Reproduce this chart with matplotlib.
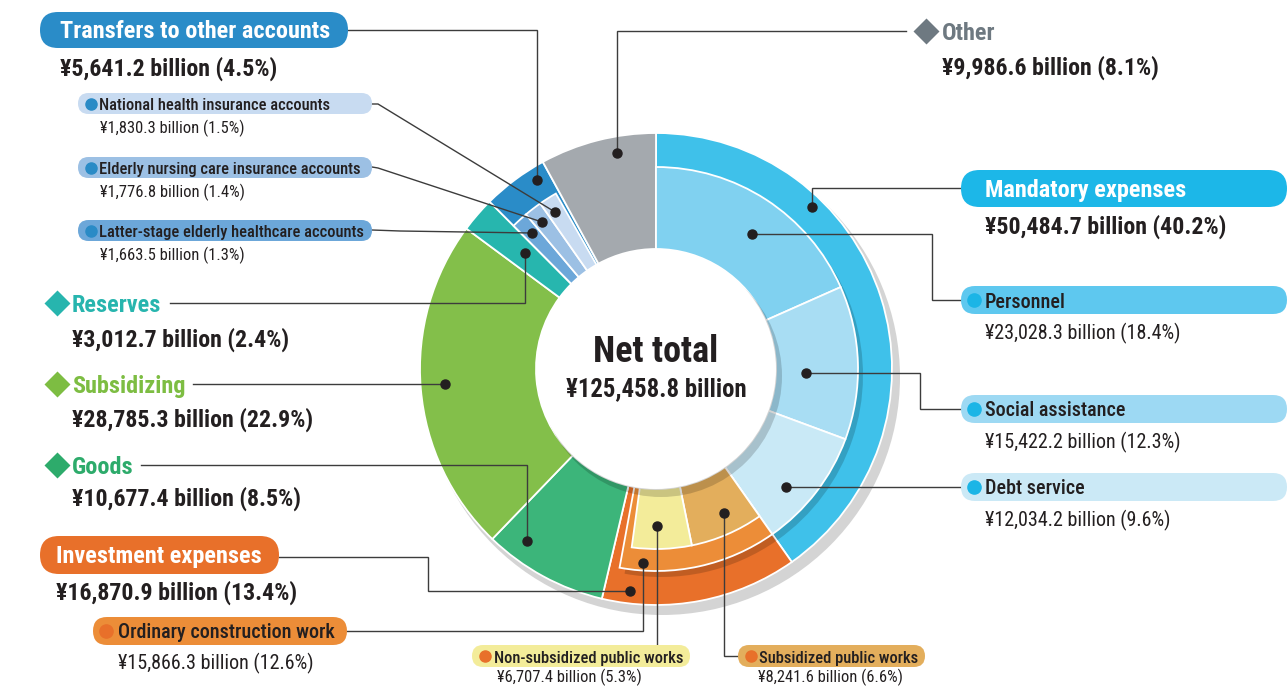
import matplotlib

matplotlib.use("Agg")
import matplotlib.pyplot as plt
from matplotlib.patches import Wedge, Circle, FancyBboxPatch

# ---- data: ¥ billion, clockwise from 12 o'clock ----
main_labels = ["Mandatory expenses", "Investment expenses", "Goods", "Subsidizing",
               "Reserves", "Transfers to other accounts", "Other"]
main_values = [50484.7, 16870.9, 10677.4, 28785.3, 3012.7, 5641.2, 9986.6]
main_shares = [40.2, 13.4, 8.5, 22.9, 2.4, 4.5, 8.1]

mandatory_labels = ["Personnel", "Social assistance", "Debt service"]
mandatory_values = [23028.3, 15422.2, 12034.2]
mandatory_shares = [18.4, 12.3, 9.6]

construction_label = "Ordinary construction work"
construction_value = 15866.3
construction_share = 12.6

works_labels = ["Subsidized public works", "Non-subsidized public works"]
works_values = [8241.6, 6707.4]
works_shares = [6.6, 5.3]

transfer_labels = ["Latter-stage elderly healthcare accounts",
                   "Elderly nursing care insurance accounts",
                   "National health insurance accounts"]
transfer_values = [1663.5, 1776.8, 1830.3]
transfer_shares = [1.3, 1.4, 1.5]

net_total = 125458.8

# ---- style ----
W, H = 1287, 687
CX, CY = 656, 369
R_IN, R_SUB, R_MID, R_OUT = 120, 180, 202, 236

INK = "#231f20"
LINE = "#3c3c3c"
main_colors = ["#3fc1ea", "#e8702a", "#3cb57a", "#83bf4a", "#27b6ae", "#2a8cc8", "#a4a9ae"]
mandatory_colors = ["#80d1f0", "#a8ddf3", "#c9e9f6"]
CON_COLOR = "#ec8d38"
works_colors = ["#e3ae5c", "#f3ec9a"]
transfer_colors = ["#6ca7d9", "#9cc0e4", "#c8dbf1"]

plt.rcParams["font.family"] = ["Roboto Condensed", "Archivo Narrow",
                               "IBM Plex Sans Condensed", "DejaVu Sans"]

DEG = 360.0 / net_total
DY = 2  # nudge text down so caps sit on the reference centre line

fig = plt.figure(figsize=(W / 100, H / 100), dpi=100, facecolor="white")
ax = fig.add_axes([0, 0, 1, 1])
ax.set_xlim(0, W)
ax.set_ylim(H, 0)
ax.axis("off")


def fmt(v, s):
    return f"¥{v:,.1f} billion ({s:.1f}%)"


def add_wedge(a0, a1, r_out, r_in, color, center=(CX, CY), **kw):
    # y axis is inverted: a visual angle a is data angle -a
    width = None if r_in is None else r_out - r_in
    p = Wedge(center, r_out, -a0, -a1, width=width, facecolor=color, **kw)
    ax.add_patch(p)
    return p


def inset_shadow(parent, a0, a1, r):
    sh = add_wedge(a0, a1, r, None, "black", center=(CX + 5, CY + 6),
                   alpha=0.17, lw=0, zorder=2)
    sh.set_clip_path(parent)


def ring(a0, values, colors, r_out, r_in, z=3):
    out = []
    for v, c in zip(values, colors):
        out.append(add_wedge(a0, a0 - v * DEG, r_out, r_in, c,
                             edgecolor="white", lw=1.3, zorder=z))
        a0 -= v * DEG
    return out


# drop shadow of the whole ring
ax.add_patch(Circle((CX + 6, CY + 8), R_OUT + 2, facecolor="#d4d4d4", lw=0, zorder=0))

angle = 90.0
spans = []
for v in main_values:
    spans.append((angle, angle - v * DEG))
    angle -= v * DEG
parents = ring(90.0, main_values, main_colors, R_OUT, R_IN, z=1)

# mandatory breakdown
a0 = spans[0][0]
inset_shadow(parents[0], a0, a0 - sum(mandatory_values) * DEG, R_MID)
ring(a0, mandatory_values, mandatory_colors, R_MID, R_IN)

# investment breakdown
a0 = spans[1][0]
inset_shadow(parents[1], a0, a0 - construction_value * DEG, R_MID)
con = ring(a0, [construction_value], [CON_COLOR], R_MID, R_IN)[0]
inset_shadow(con, a0, a0 - sum(works_values) * DEG, R_SUB)
ring(a0, works_values, works_colors, R_SUB, R_IN, z=4)

# transfers breakdown
ring(spans[5][0], transfer_values, transfer_colors, R_MID, R_IN)

# hole
ax.add_patch(Circle((CX + 5, CY + 7), R_IN + 1, facecolor="black", alpha=0.17, lw=0, zorder=5))
ax.add_patch(Circle((CX, CY), R_IN, facecolor="white", lw=0, zorder=6))
ax.text(CX, 350 + DY, "Net total", ha="center", va="center", fontsize=26,
        fontweight="bold", color=INK, zorder=7)
ax.text(CX, 387 + DY, f"¥{net_total:,.1f} billion", ha="center", va="center",
        fontsize=17.8, fontweight="bold", color=INK, zorder=7)


# ---- annotation helpers ----
def leader(pts):
    xs, ys = zip(*pts)
    ax.plot(xs, ys, color=LINE, lw=1.0, zorder=8, solid_joinstyle="miter")
    ax.plot(xs[-1], ys[-1], "o", color=INK, ms=6.5, zorder=9)


def pill(x0, y0, x1, y1, color):
    h = y1 - y0
    ax.add_patch(FancyBboxPatch((x0, y0), x1 - x0, h,
                                boxstyle=f"round,pad=0,rounding_size={h / 2}",
                                facecolor=color, edgecolor="none", zorder=10))


def txt(x, y, s, size, color=INK, weight="normal"):
    ax.text(x, y + DY, s, ha="left", va="center", fontsize=size, color=color,
            fontweight=weight, zorder=11)


def dot(x, y, color, ms):
    ax.plot(x, y, "o", color=color, ms=ms, zorder=11)


def diamond(x, y, color):
    ax.plot(x, y, "D", color=color, ms=13.5, mec="none", zorder=11)


HEAD = 17.5
VAL = 17.2
MID = 14.5
SMALL = 11.9

# transfers
leader([(348, 30), (537, 30), (537, 180)])
pill(40, 12, 348, 48, main_colors[5])
txt(60, 30, main_labels[5], HEAD, "white", "bold")
txt(60, 67, fmt(main_values[5], main_shares[5]), VAL, weight="bold")

sub_rows = [(2, 93, [(372, 104), (378, 104), (555, 212)]),
            (1, 157, [(372, 167), (378, 168), (542, 222)]),
            (0, 220, [(372, 230), (400, 231), (532, 233)])]
for i, top, pts in sub_rows:
    leader(pts)
    pill(78, top, 372, top + 21, transfer_colors[i])
    dot(91, top + 10.5, "#2a8bc6", 8)
    txt(99, top + 10.5, transfer_labels[i], SMALL, weight="medium")
    txt(100, top + 33, fmt(transfer_values[i], transfer_shares[i]), SMALL)

# reserves / subsidizing / goods
side_rows = [(4, 303, 338, "#27b5ae", [(170, 303), (525, 303), (525, 253)]),
             (3, 384, 418, "#7dbd42", [(193, 384), (445, 384)]),
             (2, 465, 497, "#2dab6b", [(141, 465), (527, 465), (527, 541)])]
for i, y, yv, col, pts in side_rows:
    leader(pts)
    diamond(57, y, col)
    txt(72, y, main_labels[i], HEAD, col, "bold")
    txt(72, yv, fmt(main_values[i], main_shares[i]), VAL, weight="bold")

# investment
leader([(279, 557), (428, 557), (428, 591), (630, 591)])
pill(40, 536, 279, 574, main_colors[1])
txt(56, 555, main_labels[1], HEAD, "white", "bold")
txt(56, 591, fmt(main_values[1], main_shares[1]), VAL, weight="bold")

leader([(347, 631), (643, 631), (643, 563)])
pill(93, 617, 347, 645, CON_COLOR)
dot(106, 631, "#e8702a", 9.5)
txt(118, 631, construction_label, MID, weight="medium")
txt(118, 661, fmt(construction_value, construction_share), MID)

leader([(657, 645), (657, 526)])
pill(472, 645, 690, 667, works_colors[1])
dot(485, 656, "#e8702a", 8)
txt(494, 656, works_labels[1], SMALL, weight="medium")
txt(497, 675, fmt(works_values[1], works_shares[1]), SMALL)

leader([(738, 656), (724, 656), (724, 513)])
pill(738, 645, 925, 667, works_colors[0])
dot(751, 656, "#e8702a", 8)
txt(759, 656, works_labels[0], SMALL, weight="medium")
txt(758, 675, fmt(works_values[0], works_shares[0]), SMALL)

# other
leader([(906, 31), (617, 31), (617, 153)])
diamond(926, 31, "#6e7981")
txt(942, 31, main_labels[6], HEAD, "#6e7981", "bold")
txt(942, 66, fmt(main_values[6], main_shares[6]), VAL, weight="bold")

# mandatory
leader([(961, 188), (812, 188), (812, 207)])
pill(961, 170, 1287, 207, "#1cb7e8")
txt(985, 188, main_labels[0], HEAD, "white", "bold")
txt(985, 225, fmt(main_values[0], main_shares[0]), VAL, weight="bold")

right_rows = [(0, 286, "#5ec8ef", [(961, 300), (932, 300), (932, 234), (752, 234)]),
              (1, 395, "#9dd9f3", [(961, 409), (920, 409), (920, 373), (806, 373)]),
              (2, 473, "#cbe9f6", [(961, 487), (786, 487)])]
for i, top, col, pts in right_rows:
    leader(pts)
    pill(961, top, 1287, top + 28, col)
    dot(974, top + 14, "#1bb5e6", 9.5)
    txt(985, top + 14, mandatory_labels[i], MID, weight="medium")
    txt(985, top + 45, fmt(mandatory_values[i], mandatory_shares[i]), MID)

fig.savefig("out.png", dpi=100, facecolor="white")
